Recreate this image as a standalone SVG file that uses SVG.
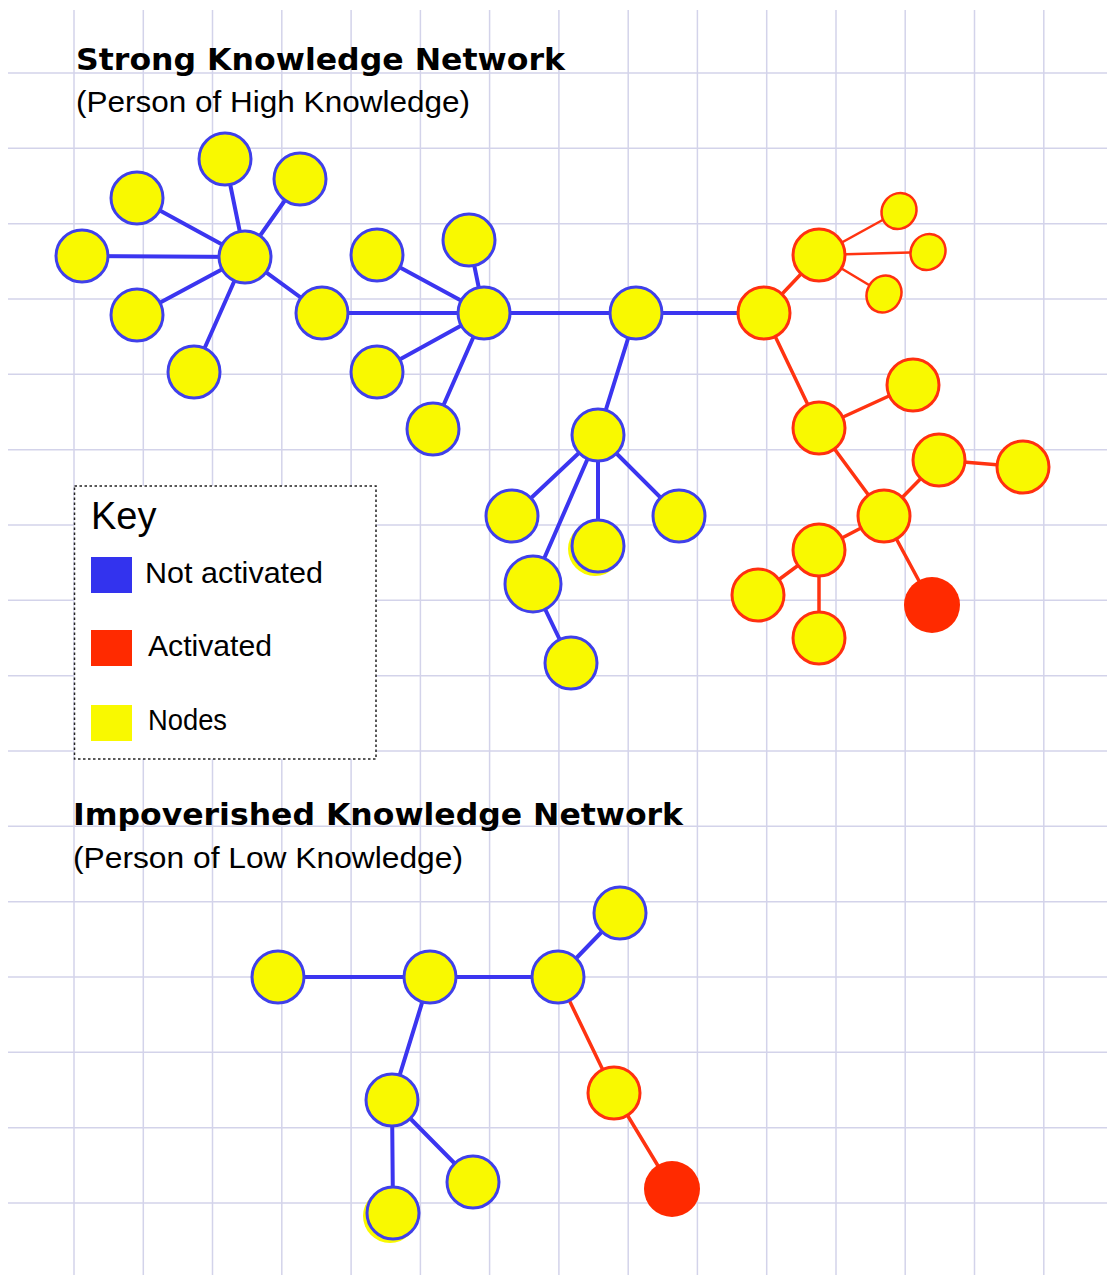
<svg xmlns="http://www.w3.org/2000/svg" width="1107" height="1275" viewBox="0 0 1107 1275">
<style>
.grid line{stroke:#d3d3ea;stroke-width:1.5}
.nb{fill:#f9f900;stroke:#4040ea;stroke-width:3}
.nr{fill:#f9f900;stroke:#ff3010;stroke-width:3}
.ns{fill:#f9f900;stroke:#ff3010;stroke-width:2.5}
.act{fill:#ff2a00}
.eb{stroke:#3b35f0;stroke-width:4;stroke-linecap:round}
.er{stroke:#ff3311;stroke-width:3.5;stroke-linecap:round}
.et{stroke:#ff3311;stroke-width:2.5;stroke-linecap:round}
.title{font-family:"DejaVu Sans","Liberation Sans",sans-serif;font-weight:bold;font-size:30px;fill:#000}
.sub{font-family:"Liberation Sans",Arial,sans-serif;font-size:30px;fill:#000}
.key{font-family:"Liberation Sans",Arial,sans-serif;font-size:30px;fill:#000}
</style>
<rect width="1107" height="1275" fill="#fff"/>
<g class="grid">
<line x1="74" y1="10" x2="74" y2="1275"/>
<line x1="143.3" y1="10" x2="143.3" y2="1275"/>
<line x1="212.5" y1="10" x2="212.5" y2="1275"/>
<line x1="281.8" y1="10" x2="281.8" y2="1275"/>
<line x1="351.1" y1="10" x2="351.1" y2="1275"/>
<line x1="420.4" y1="10" x2="420.4" y2="1275"/>
<line x1="489.6" y1="10" x2="489.6" y2="1275"/>
<line x1="558.9" y1="10" x2="558.9" y2="1275"/>
<line x1="628.2" y1="10" x2="628.2" y2="1275"/>
<line x1="697.4" y1="10" x2="697.4" y2="1275"/>
<line x1="766.7" y1="10" x2="766.7" y2="1275"/>
<line x1="836" y1="10" x2="836" y2="1275"/>
<line x1="905.2" y1="10" x2="905.2" y2="1275"/>
<line x1="974.5" y1="10" x2="974.5" y2="1275"/>
<line x1="1043.8" y1="10" x2="1043.8" y2="1275"/>
<line x1="8" y1="73" x2="1107" y2="73"/>
<line x1="8" y1="148.3" x2="1107" y2="148.3"/>
<line x1="8" y1="223.7" x2="1107" y2="223.7"/>
<line x1="8" y1="299" x2="1107" y2="299"/>
<line x1="8" y1="374.3" x2="1107" y2="374.3"/>
<line x1="8" y1="449.7" x2="1107" y2="449.7"/>
<line x1="8" y1="525" x2="1107" y2="525"/>
<line x1="8" y1="600.3" x2="1107" y2="600.3"/>
<line x1="8" y1="675.7" x2="1107" y2="675.7"/>
<line x1="8" y1="751" x2="1107" y2="751"/>
<line x1="8" y1="826.3" x2="1107" y2="826.3"/>
<line x1="8" y1="901.7" x2="1107" y2="901.7"/>
<line x1="8" y1="977" x2="1107" y2="977"/>
<line x1="8" y1="1052.3" x2="1107" y2="1052.3"/>
<line x1="8" y1="1127.7" x2="1107" y2="1127.7"/>
<line x1="8" y1="1203" x2="1107" y2="1203"/>
</g>

<g id="titles">
<text class="title" x="76" y="70" textLength="489" lengthAdjust="spacingAndGlyphs">Strong Knowledge Network</text>
<text class="sub" x="76" y="112" textLength="394" lengthAdjust="spacingAndGlyphs">(Person of High Knowledge)</text>
<text class="title" x="73" y="825" textLength="610" lengthAdjust="spacingAndGlyphs">Impoverished Knowledge Network</text>
<text class="sub" x="73" y="868" textLength="390" lengthAdjust="spacingAndGlyphs">(Person of Low Knowledge)</text>
</g>

<g id="key">
<rect x="74.5" y="486" width="301.5" height="273" fill="#fff" stroke="#222" stroke-width="1.5" stroke-dasharray="2.5,2.5"/>
<text x="91" y="529" font-family="Liberation Sans, Arial, sans-serif" font-size="38" fill="#000">Key</text>
<rect x="91" y="557" width="41" height="36" fill="#3333ee"/>
<rect x="91" y="630" width="41" height="36" fill="#ff2a00"/>
<rect x="91" y="705" width="41" height="36" fill="#f9f900"/>
<text class="key" x="145" y="583" textLength="178" lengthAdjust="spacingAndGlyphs">Not activated</text>
<text class="key" x="148" y="656" textLength="124" lengthAdjust="spacingAndGlyphs">Activated</text>
<text class="key" x="148" y="730" textLength="79" lengthAdjust="spacingAndGlyphs">Nodes</text>
</g>

<g id="connectors">
<line class="eb" x1="245" y1="257" x2="225" y2="159"/>
<line class="eb" x1="245" y1="257" x2="300" y2="179"/>
<line class="eb" x1="245" y1="257" x2="137" y2="198"/>
<line class="eb" x1="245" y1="257" x2="82" y2="256"/>
<line class="eb" x1="245" y1="257" x2="137" y2="315"/>
<line class="eb" x1="245" y1="257" x2="194" y2="372"/>
<line class="eb" x1="245" y1="257" x2="322" y2="313"/>
<line class="eb" x1="322" y1="313" x2="484" y2="313"/>
<line class="eb" x1="484" y1="313" x2="377" y2="255"/>
<line class="eb" x1="484" y1="313" x2="469" y2="240"/>
<line class="eb" x1="484" y1="313" x2="377" y2="372"/>
<line class="eb" x1="484" y1="313" x2="433" y2="429"/>
<line class="eb" x1="484" y1="313" x2="636" y2="313"/>
<line class="eb" x1="636" y1="313" x2="764" y2="313"/>
<line class="eb" x1="636" y1="313" x2="598" y2="435"/>
<line class="eb" x1="598" y1="435" x2="512" y2="516"/>
<line class="eb" x1="598" y1="435" x2="598" y2="546"/>
<line class="eb" x1="598" y1="435" x2="679" y2="516"/>
<line class="eb" x1="598" y1="435" x2="533" y2="584"/>
<line class="eb" x1="533" y1="584" x2="571" y2="663"/>
<line class="er" x1="764" y1="313" x2="819" y2="255"/>
<line class="et" x1="819" y1="255" x2="899" y2="211"/>
<line class="et" x1="819" y1="255" x2="928" y2="252"/>
<line class="et" x1="819" y1="255" x2="884" y2="294"/>
<line class="er" x1="764" y1="313" x2="819" y2="428"/>
<line class="er" x1="819" y1="428" x2="913" y2="385"/>
<line class="er" x1="819" y1="428" x2="884" y2="516"/>
<line class="er" x1="884" y1="516" x2="939" y2="460"/>
<line class="er" x1="939" y1="460" x2="1023" y2="467"/>
<line class="er" x1="884" y1="516" x2="819" y2="550"/>
<line class="er" x1="819" y1="550" x2="758" y2="595"/>
<line class="er" x1="819" y1="550" x2="819" y2="638"/>
<line class="er" x1="884" y1="516" x2="932" y2="605"/>
<line class="eb" x1="278" y1="977" x2="430" y2="977"/>
<line class="eb" x1="430" y1="977" x2="558" y2="977"/>
<line class="eb" x1="558" y1="977" x2="620" y2="913"/>
<line class="eb" x1="430" y1="977" x2="392" y2="1100"/>
<line class="eb" x1="392" y1="1100" x2="393" y2="1213"/>
<line class="eb" x1="392" y1="1100" x2="473" y2="1182"/>
<line class="er" x1="558" y1="977" x2="614" y2="1093"/>
<line class="er" x1="614" y1="1093" x2="672" y2="1189"/>
</g>

<g id="strong-network">
<g id="s1"><circle class="nb" cx="245" cy="257" r="26"/></g>
<g id="s2"><circle class="nb" cx="225" cy="159" r="26"/></g>
<g id="s3"><circle class="nb" cx="300" cy="179" r="26"/></g>
<g id="s4"><circle class="nb" cx="137" cy="198" r="26"/></g>
<g id="s5"><circle class="nb" cx="82" cy="256" r="26"/></g>
<g id="s6"><circle class="nb" cx="137" cy="315" r="26"/></g>
<g id="s7"><circle class="nb" cx="194" cy="372" r="26"/></g>
<g id="s8"><circle class="nb" cx="322" cy="313" r="26"/></g>
<g id="s9"><circle class="nb" cx="484" cy="313" r="26"/></g>
<g id="s10"><circle class="nb" cx="377" cy="255" r="26"/></g>
<g id="s11"><circle class="nb" cx="469" cy="240" r="26"/></g>
<g id="s12"><circle class="nb" cx="377" cy="372" r="26"/></g>
<g id="s13"><circle class="nb" cx="433" cy="429" r="26"/></g>
<g id="s14"><circle class="nb" cx="636" cy="313" r="26"/></g>
<g id="s15"><circle class="nb" cx="598" cy="435" r="26"/></g>
<g id="s16"><circle class="nb" cx="512" cy="516" r="26"/></g>
<g id="s17"><circle cx="595" cy="549" r="27" fill="#f9f900"/><circle class="nb" cx="598" cy="546" r="26"/></g>
<g id="s18"><circle class="nb" cx="679" cy="516" r="26"/></g>
<g id="s19"><circle class="nb" cx="533" cy="584" r="28"/></g>
<g id="s20"><circle class="nb" cx="571" cy="663" r="26"/></g>
<g id="s21"><circle class="nr" cx="764" cy="313" r="26"/></g>
<g id="s22"><circle class="nr" cx="819" cy="255" r="26"/></g>
<g id="s23"><ellipse class="ns" cx="899" cy="211" rx="17" ry="18.5" transform="rotate(35 899 211)"/></g>
<g id="s24"><ellipse class="ns" cx="928" cy="252" rx="17" ry="18.5" transform="rotate(35 928 252)"/></g>
<g id="s25"><ellipse class="ns" cx="884" cy="294" rx="17" ry="19" transform="rotate(30 884 294)"/></g>
<g id="s26"><circle class="nr" cx="819" cy="428" r="26"/></g>
<g id="s27"><circle class="nr" cx="913" cy="385" r="26"/></g>
<g id="s28"><circle class="nr" cx="884" cy="516" r="26"/></g>
<g id="s29"><circle class="nr" cx="939" cy="460" r="26"/></g>
<g id="s30"><circle class="nr" cx="1023" cy="467" r="26"/></g>
<g id="s31"><circle class="nr" cx="819" cy="550" r="26"/></g>
<g id="s32"><circle class="nr" cx="758" cy="595" r="26"/></g>
<g id="s33"><circle class="nr" cx="819" cy="638" r="26"/></g>
<g id="s34"><circle class="act" cx="932" cy="605" r="28"/></g>
</g>

<g id="weak-network">
<g id="w1"><circle class="nb" cx="278" cy="977" r="26"/></g>
<g id="w2"><circle class="nb" cx="430" cy="977" r="26"/></g>
<g id="w3"><circle class="nb" cx="558" cy="977" r="26"/></g>
<g id="w4"><circle class="nb" cx="620" cy="913" r="26"/></g>
<g id="w5"><circle class="nb" cx="392" cy="1100" r="26"/></g>
<g id="w6"><circle class="nb" cx="473" cy="1182" r="26"/></g>
<g id="w7"><circle cx="390" cy="1216" r="27" fill="#f9f900"/><circle class="nb" cx="393" cy="1213" r="26"/></g>
<g id="w8"><circle class="nr" cx="614" cy="1093" r="26"/></g>
<g id="w9"><circle class="act" cx="672" cy="1189" r="28"/></g>
</g>
</svg>
